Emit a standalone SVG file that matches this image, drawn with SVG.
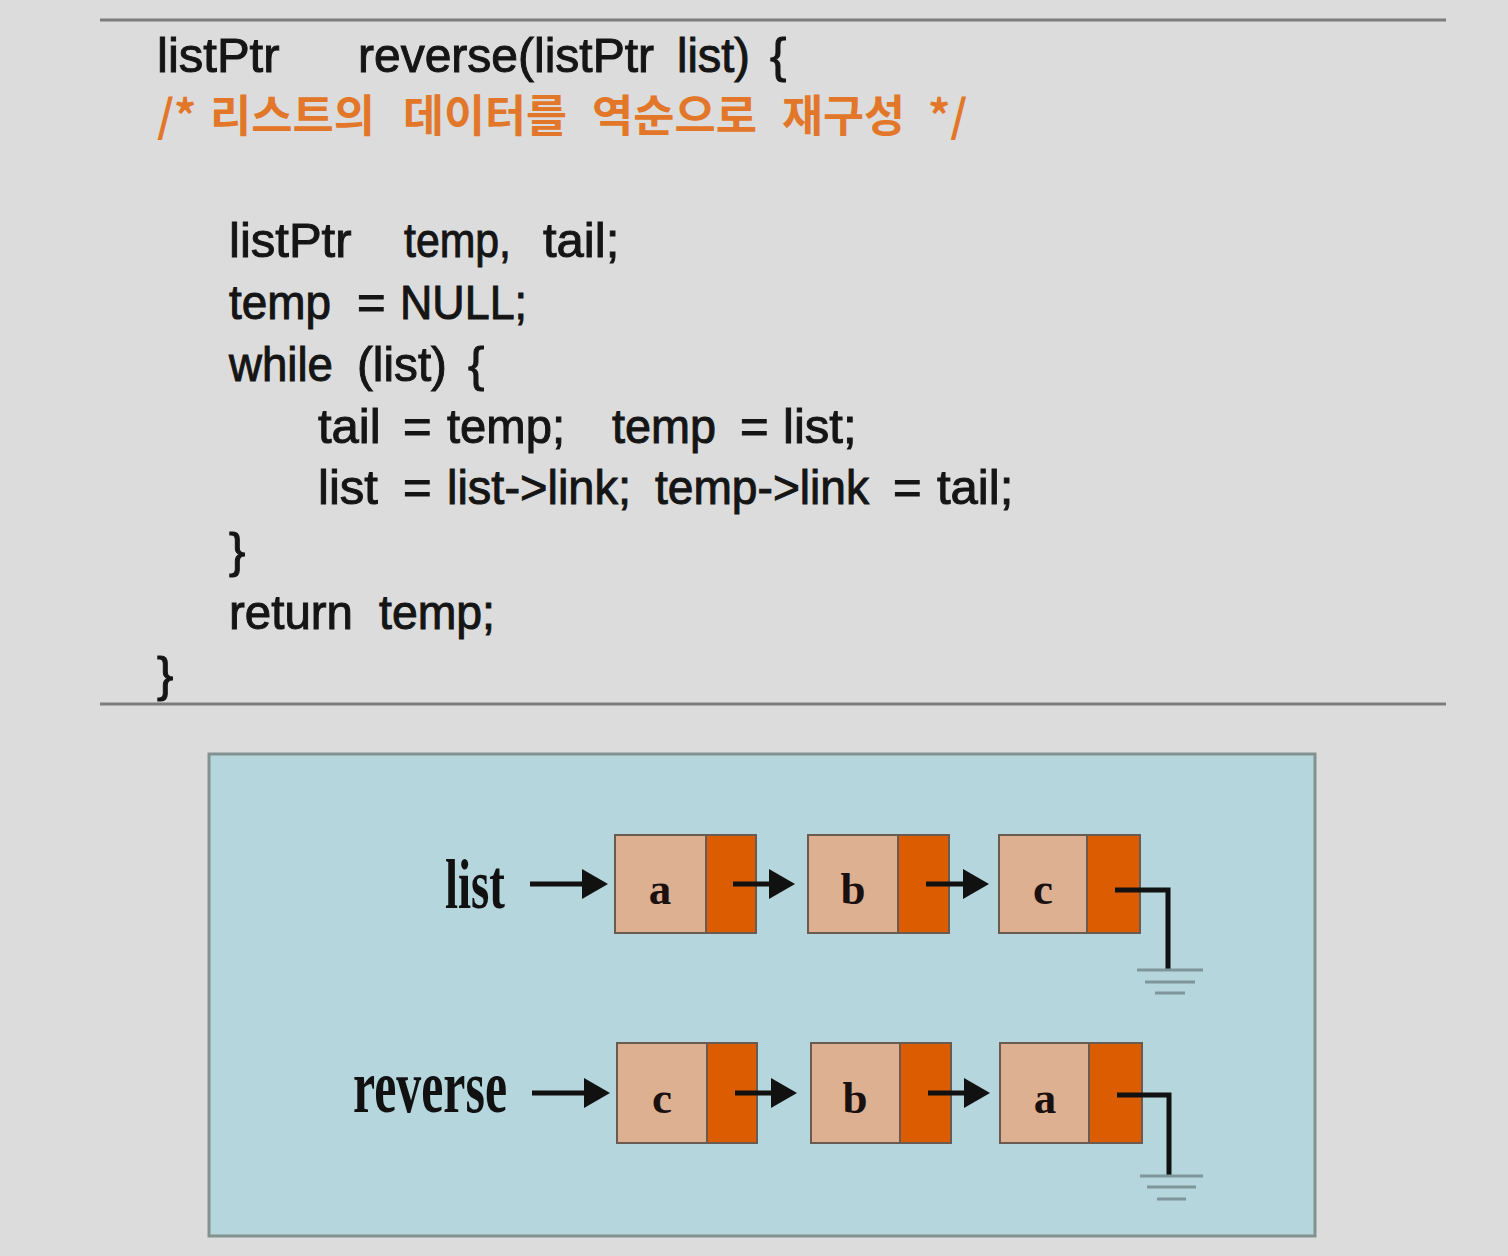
<svg xmlns="http://www.w3.org/2000/svg" width="1508" height="1256" viewBox="0 0 1508 1256">
<style>
.code{font-family:"Liberation Sans",Arial,sans-serif;font-size:49px;fill:#151515;stroke:#151515;stroke-width:1px}
.cmt{font-family:"Noto Sans CJK KR","Liberation Sans",sans-serif;font-size:44px;font-weight:bold;fill:#e2772a}
.rule{stroke:#7c7c7c;stroke-width:3}
.lbl{font-family:"Liberation Serif","Times New Roman",serif;font-weight:bold;fill:#111}
.data{fill:#dcb090;stroke:#6a5a50;stroke-width:2}
.ptr{fill:#dc5c02;stroke:#6a5a50;stroke-width:2}
.val{font-family:"Liberation Serif","Times New Roman",serif;font-weight:bold;font-size:45px;fill:#1a1010;text-anchor:middle}
.wire{fill:none;stroke:#111;stroke-width:5}
.gnd{stroke:#7e9699;stroke-width:3}
</style>
<defs>
<marker id="ah" markerUnits="userSpaceOnUse" markerWidth="28" markerHeight="32" refX="20" refY="15" orient="auto">
<path d="M0,0 L26,15 L0,30 z" fill="#111"/>
</marker>
</defs>
<rect x="0" y="0" width="1508" height="1256" fill="#dcdcdc"/>
<line class="rule" x1="100" y1="20" x2="1446" y2="20"/>
<line class="rule" x1="100" y1="704" x2="1446" y2="704"/>

<g id="code">
<g id="line1">
<text class="code" x="157" y="72">listPtr</text>
<text class="code" x="358" y="72" textLength="296" lengthAdjust="spacingAndGlyphs">reverse(listPtr</text>
<text class="code" x="677" y="72" textLength="73" lengthAdjust="spacingAndGlyphs">list)</text>
<text class="code" x="770" y="72">{</text>
</g>
<g id="comment">
<text class="cmt" x="157" y="132">/*</text>
<text class="cmt" x="210" y="132" textLength="165" lengthAdjust="spacingAndGlyphs">리스트의</text>
<text class="cmt" x="403" y="132" textLength="164" lengthAdjust="spacingAndGlyphs">데이터를</text>
<text class="cmt" x="592" y="132" textLength="165" lengthAdjust="spacingAndGlyphs">역순으로</text>
<text class="cmt" x="782" y="132" textLength="123" lengthAdjust="spacingAndGlyphs">재구성</text>
<text class="cmt" x="928" y="132">*/</text>
</g>
<g id="line3">
<text class="code" x="229" y="257">listPtr</text>
<text class="code" x="404" y="257" textLength="107" lengthAdjust="spacingAndGlyphs">temp,</text>
<text class="code" x="543" y="257">tail;</text>
</g>
<g id="line4">
<text class="code" x="229" y="319" textLength="102" lengthAdjust="spacingAndGlyphs">temp</text>
<text class="code" x="357" y="319">=</text>
<text class="code" x="400" y="319" textLength="127" lengthAdjust="spacingAndGlyphs">NULL;</text>
</g>
<g id="line5">
<text class="code" x="229" y="381" textLength="104" lengthAdjust="spacingAndGlyphs">while</text>
<text class="code" x="357" y="381" textLength="90" lengthAdjust="spacingAndGlyphs">(list)</text>
<text class="code" x="468" y="381">{</text>
</g>
<g id="line6">
<text class="code" x="318" y="443">tail</text>
<text class="code" x="403" y="443">=</text>
<text class="code" x="447" y="443" textLength="118" lengthAdjust="spacingAndGlyphs">temp;</text>
<text class="code" x="612" y="443" textLength="104" lengthAdjust="spacingAndGlyphs">temp</text>
<text class="code" x="740" y="443">=</text>
<text class="code" x="783" y="443">list;</text>
</g>
<g id="line7">
<text class="code" x="318" y="504">list</text>
<text class="code" x="403" y="504">=</text>
<text class="code" x="447" y="504" textLength="184" lengthAdjust="spacingAndGlyphs">list-&gt;link;</text>
<text class="code" x="655" y="504" textLength="214" lengthAdjust="spacingAndGlyphs">temp-&gt;link</text>
<text class="code" x="893" y="504">=</text>
<text class="code" x="937" y="504">tail;</text>
</g>
<text class="code" x="229" y="567">}</text>
<g id="line9">
<text class="code" x="229" y="629" textLength="124" lengthAdjust="spacingAndGlyphs">return</text>
<text class="code" x="379" y="629" textLength="116" lengthAdjust="spacingAndGlyphs">temp;</text>
</g>
<text class="code" x="157" y="691">}</text>
</g>

<rect x="209" y="754" width="1106" height="482" fill="#b5d6dc" stroke="#83918f" stroke-width="3"/>

<g id="label-list"><text class="lbl" x="445" y="908" font-size="70" textLength="60" lengthAdjust="spacingAndGlyphs">list</text></g>
<g id="label-reverse"><text class="lbl" x="353" y="1112" font-size="76" textLength="154" lengthAdjust="spacingAndGlyphs">reverse</text></g>

<g id="list-a"><rect class="data" x="615" y="835" width="91" height="98"/><rect class="ptr" x="706" y="835" width="50" height="98"/><text class="val" x="660" y="904">a</text></g>
<g id="list-b"><rect class="data" x="808" y="835" width="90" height="98"/><rect class="ptr" x="898" y="835" width="51" height="98"/><text class="val" x="853" y="904">b</text></g>
<g id="list-c"><rect class="data" x="999" y="835" width="88" height="98"/><rect class="ptr" x="1087" y="835" width="53" height="98"/><text class="val" x="1043" y="904">c</text></g>

<g id="rev-c"><rect class="data" x="617" y="1043" width="90" height="100"/><rect class="ptr" x="707" y="1043" width="50" height="100"/><text class="val" x="662" y="1113">c</text></g>
<g id="rev-b"><rect class="data" x="811" y="1043" width="89" height="100"/><rect class="ptr" x="900" y="1043" width="51" height="100"/><text class="val" x="855" y="1113">b</text></g>
<g id="rev-a"><rect class="data" x="1000" y="1043" width="89" height="100"/><rect class="ptr" x="1089" y="1043" width="53" height="100"/><text class="val" x="1045" y="1113">a</text></g>

<g id="connectors">
<line class="wire" x1="530" y1="884" x2="602" y2="884" marker-end="url(#ah)"/>
<line class="wire" x1="733" y1="884" x2="789" y2="884" marker-end="url(#ah)"/>
<line class="wire" x1="926" y1="884" x2="983" y2="884" marker-end="url(#ah)"/>
<polyline class="wire" points="1115,890 1168,890 1168,970"/>
<line class="gnd" x1="1137" y1="970" x2="1203" y2="970"/>
<line class="gnd" x1="1145" y1="982" x2="1195" y2="982"/>
<line class="gnd" x1="1155" y1="993" x2="1185" y2="993"/>

<line class="wire" x1="532" y1="1093" x2="604" y2="1093" marker-end="url(#ah)"/>
<line class="wire" x1="735" y1="1093" x2="791" y2="1093" marker-end="url(#ah)"/>
<line class="wire" x1="928" y1="1093" x2="984" y2="1093" marker-end="url(#ah)"/>
<polyline class="wire" points="1117,1095 1169,1095 1169,1176"/>
<line class="gnd" x1="1140" y1="1176" x2="1203" y2="1176"/>
<line class="gnd" x1="1147" y1="1187" x2="1196" y2="1187"/>
<line class="gnd" x1="1157" y1="1199" x2="1186" y2="1199"/>
</g>
</svg>
